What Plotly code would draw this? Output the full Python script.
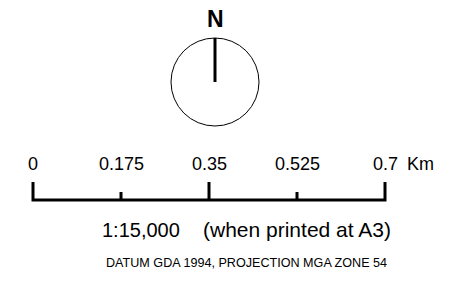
import plotly.graph_objects as go

# ---- data ----
tick_values = [0, 0.175, 0.35, 0.525, 0.7]
tick_labels = ["0", "0.175", "0.35", "0.525", "0.7"]
major_ticks = [0, 0.35, 0.7]
minor_ticks = [0.175, 0.525]
unit_label = "Km"
scale_text = "1:15,000"
print_note = "(when printed at A3)"
datum_text = "DATUM GDA 1994, PROJECTION MGA ZONE 54"
north_label = "N"

W, H = 462, 283
PX_PER_KM = 352 / 0.7
X0_PX = 33
x_range = [-X0_PX / PX_PER_KM, (W - X0_PX) / PX_PER_KM]

BAR_Y = 200
MAJOR_TOP = 182
MINOR_TOP = 192
LABEL_Y = 164

FONT = "Arial, Liberation Sans, sans-serif"

fig = go.Figure()

# main bar with end ticks
bx = [major_ticks[0], major_ticks[0], major_ticks[-1], major_ticks[-1]]
by = [MAJOR_TOP, BAR_Y, BAR_Y, MAJOR_TOP]
fig.add_trace(go.Scatter(x=bx, y=by, mode="lines",
                         line=dict(color="black", width=3),
                         hoverinfo="skip", showlegend=False))
# inner ticks
tx, ty = [], []
for v in tick_values[1:-1]:
    top = MAJOR_TOP if v in major_ticks else MINOR_TOP
    tx += [v, v, None]
    ty += [top, BAR_Y, None]
fig.add_trace(go.Scatter(x=tx, y=ty, mode="lines",
                         line=dict(color="black", width=3),
                         hoverinfo="skip", showlegend=False))

annotations = []
for v, lab in zip(tick_values, tick_labels):
    annotations.append(dict(x=v, y=LABEL_Y, xref="x", yref="y", text=lab,
                            showarrow=False, xanchor="center", yanchor="middle",
                            font=dict(family=FONT, size=18, color="black")))
annotations.append(dict(x=420.5 / W, y=LABEL_Y, xref="paper", yref="y", text=unit_label,
                        showarrow=False, xanchor="center", yanchor="middle",
                        font=dict(family=FONT, size=18, color="black")))
annotations.append(dict(x=100 / W, y=229.5, xref="paper", yref="y", text=scale_text,
                        showarrow=False, xanchor="left", yanchor="middle",
                        font=dict(family=FONT, size=20, color="black")))
annotations.append(dict(x=393 / W, y=229.5, xref="paper", yref="y", text=print_note,
                        showarrow=False, xanchor="right", yanchor="middle",
                        font=dict(family=FONT, size=21, color="black")))
annotations.append(dict(x=246.3 / W, y=263, xref="paper", yref="y", text=datum_text,
                        showarrow=False, xanchor="center", yanchor="middle",
                        font=dict(family=FONT, size=12.6, color="black")))
annotations.append(dict(x=215 / W, y=18.5, xref="paper", yref="y", text="<b>" + north_label + "</b>",
                        showarrow=False, xanchor="center", yanchor="middle",
                        font=dict(family=FONT, size=23, color="black")))

# north arrow circle and needle (paper coords)
cx, cy, r = 215, 82, 44
shapes = [
    dict(type="circle", xref="paper", yref="paper",
         x0=(cx - r) / W, x1=(cx + r) / W,
         y0=1 - (cy + r) / H, y1=1 - (cy - r) / H,
         line=dict(color="black", width=1)),
    dict(type="line", xref="paper", yref="paper",
         x0=cx / W, x1=cx / W, y0=1 - cy / H, y1=1 - (cy - r) / H,
         line=dict(color="black", width=3)),
]

fig.update_layout(
    width=W, height=H,
    margin=dict(l=0, r=0, t=0, b=0),
    paper_bgcolor="white", plot_bgcolor="white",
    xaxis=dict(range=x_range, visible=False, fixedrange=True),
    yaxis=dict(range=[H, 0], visible=False, fixedrange=True),
    annotations=annotations,
    shapes=shapes,
    showlegend=False,
)

fig.write_html("out.html",
               config={"displayModeBar": False},
               post_script="document.body.style.margin='0';document.body.style.overflow='hidden';")
